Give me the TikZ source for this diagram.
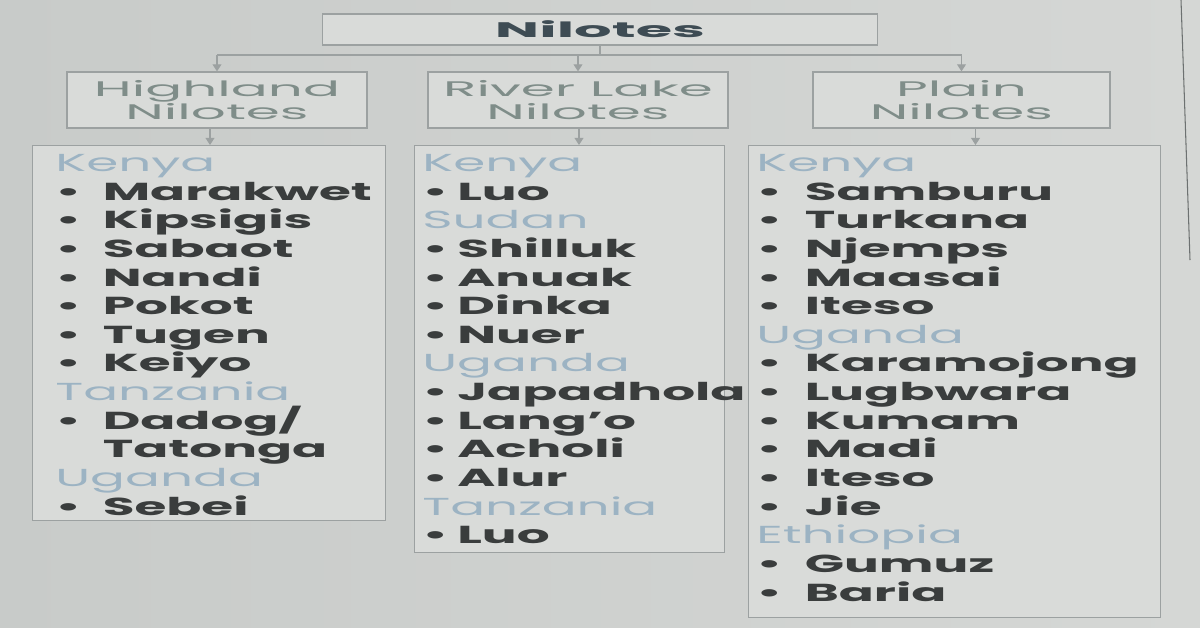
\documentclass[tikz,border=0pt]{standalone}
\usepackage{fontspec}
\setmainfont{Poppins}[FakeStretch=2.1]
\newfontfamily\subfont{Poppins}[FakeStretch=2.6]
\newfontfamily\titlefont{Poppins}[FakeStretch=2.8]
\usetikzlibrary{arrows.meta}

\definecolor{paperl}{HTML}{C8CBC9}
\definecolor{paperr}{HTML}{D5D7D5}
\definecolor{boxfill}{HTML}{D9DBD9}
\definecolor{boxline}{HTML}{9CA1A1}
\definecolor{titlecol}{HTML}{3E4C54}
\definecolor{subcol}{HTML}{7F8D89}
\definecolor{grpcol}{HTML}{9CB3C3}
\definecolor{tribecol}{HTML}{3A3D3D}

\newlength{\tribegap}
\newcommand{\tribe}[1]{\makebox[\tribegap][l]{\textbullet}#1}
\newcommand{\tribecont}[1]{\hspace*{\tribegap}#1}
\newcommand{\grouphead}[1]{{\color{grpcol}\mdseries #1}}

\tikzset{
  box/.style={draw=boxline, fill=boxfill, line width=0.7pt, inner sep=0pt},
  subbox/.style={text=subcol, align=center, minimum width=6cm, minimum height=1.12cm,
    font=\subfont\fontsize{12}{13.1}\selectfont},
  listtext/.style={inner sep=0pt, align=left, text=tribecol,
    font=\bfseries\fontsize{14}{16.3}\selectfont,
    execute at begin node={\setlength{\tribegap}{#1}}},
  link/.style={draw=boxline, line width=0.7pt}
}

\begin{document}
\begin{tikzpicture}[x=0.02cm, y=-0.02cm, >={Triangle[length=4pt,width=5pt]}]
\shade[left color=paperl, right color=paperr] (0,0) rectangle (1200,627);
\useasboundingbox (0,0) rectangle (1200,627);
\draw[boxline!70!black, line width=0.6pt] (1181,0) -- (1190,260);

% top and second row
\node (nil) [box, minimum width=11.1cm, minimum height=0.62cm, text=titlecol,
  font=\titlefont\bfseries\fontsize{12}{13}\selectfont] at (600,29.5) {Nilotes};
\node (hn) [box, subbox] at (217,100) {Highland\\Nilotes};
\node (rn) [box, subbox] at (578,100) {River Lake\\Nilotes};
\node (pn) [box, subbox, minimum width=5.94cm] at (961.5,100) {Plain\\Nilotes};

% list boxes
\node (hlist) [box, minimum width=7.06cm, minimum height=7.5cm, anchor=north west] at (32,145) {};
\node (rlist) [box, minimum width=6.2cm, minimum height=8.14cm, anchor=north west] at (414,145) {};
\node (plist) [box, minimum width=8.24cm, minimum height=9.44cm, anchor=north west] at (748,145) {};

\node (htxt) [listtext=0.95cm, anchor=north west] at (55,154) {
  \grouphead{Kenya}\\ \tribe{Marakwet}\\ \tribe{Kipsigis}\\ \tribe{Sabaot}\\
  \tribe{Nandi}\\ \tribe{Pokot}\\ \tribe{Tugen}\\ \tribe{Keiyo}\\
  \grouphead{Tanzania}\\ \tribe{Dadog/}\\ \tribecont{Tatonga}\\
  \grouphead{Uganda}\\ \tribe{Sebei}};
\node (rtxt) [listtext=0.7cm, anchor=north west] at (422,154) {
  \grouphead{Kenya}\\ \tribe{Luo}\\
  \grouphead{Sudan}\\ \tribe{Shilluk}\\ \tribe{Anuak}\\ \tribe{Dinka}\\ \tribe{Nuer}\\
  \grouphead{Uganda}\\ \tribe{Japadhola}\\ \tribe{Lang'o}\\ \tribe{Acholi}\\ \tribe{Alur}\\
  \grouphead{Tanzania}\\ \tribe{Luo}};
\node (ptxt) [listtext=0.97cm, anchor=north west] at (756,154) {
  \grouphead{Kenya}\\ \tribe{Samburu}\\ \tribe{Turkana}\\ \tribe{Njemps}\\
  \tribe{Maasai}\\ \tribe{Iteso}\\
  \grouphead{Uganda}\\ \tribe{Karamojong}\\ \tribe{Lugbwara}\\ \tribe{Kumam}\\
  \tribe{Madi}\\ \tribe{Iteso}\\ \tribe{Jie}\\
  \grouphead{Ethiopia}\\ \tribe{Gumuz}\\ \tribe{Baria}};

% connectors
\coordinate (bus) at (599,55);
\draw[link] (nil.south) -- (nil.south |- bus);
\draw[link] (bus -| hn) -- (bus -| pn);
\foreach \n/\m/\dx in {hn/hlist/-7, rn/rlist/1, pn/plist/14} {
  \draw[link, ->] (bus -| \n) -- (\n.north);
  \draw[link, ->] ([xshift=\dx*0.02cm]\n.south) -- ([xshift=\dx*0.02cm]\n.south |- \m.north);
}
\end{tikzpicture}
\end{document}
